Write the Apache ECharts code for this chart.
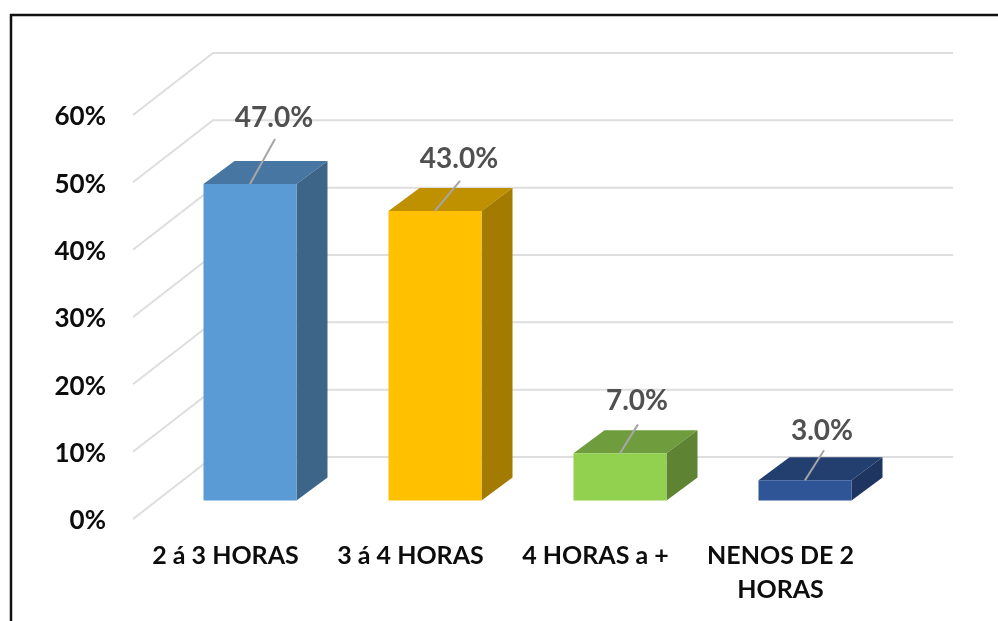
<!DOCTYPE html>
<html>
<head>
<meta charset="utf-8">
<title>Horas</title>
<style>
    html, body { margin: 0; padding: 0; background: #fff; }
    #chart { width: 998px; height: 621px; }
</style>
<script src="https://cdn.jsdelivr.net/npm/echarts@6/dist/echarts.min.js"></script>
</head>
<body>
<div id="chart"></div>
<script>
const categories = ['2 á 3 HORAS', '3 á 4 HORAS', '4 HORAS a +', 'NENOS DE 2\nHORAS'];
const values = [47, 43, 7, 3];
const ticks = [0, 10, 20, 30, 40, 50, 60];

// front, top, side
const barColors = [
    ['#5B9BD5', '#4876A2', '#3C6587'],
    ['#FFC000', '#BF9000', '#A27B00'],
    ['#92D050', '#6F9D3D', '#5D8333'],
    ['#2F5597', '#223F70', '#1D3560']
];
// leader line end and label centre, relative to the middle of the bar's front top edge
const leaders = [
    { dx: 25, dy: -45, tx: 24, ty: -66 },
    { dx: 25, dy: -30, tx: 24, ty: -52 },
    { dx: 18, dy: -29, tx: 17, ty: -52 },
    { dx: 19, dy: -30, tx: 17, ty: -49 }
];

const FONT = 'Lato, "Noto Sans", sans-serif';
// depth of the fake 3d floor and of the bars, in px
const wallDx = 80, wallDy = -62;
const barOffX = 24.5, barOffY = -18.5;
const barDx = 31, barDy = -23;
const barW = 93;

function renderGridLine(params, api) {
    const y = api.coord([0, api.value(1)])[1];
    const cs = params.coordSys;
    return {
        type: 'polyline',
        silent: true,
        shape: { points: [[cs.x, y], [cs.x + wallDx, y + wallDy], [cs.x + cs.width + wallDx, y + wallDy]] },
        style: { fill: null, stroke: '#DEDEDE', lineWidth: 2 }
    };
}

function renderBar(params, api) {
    const idx = api.value(0);
    const top = api.coord([idx, api.value(1)]);
    const base = api.coord([idx, 0]);
    const l = top[0] - barW / 2 + barOffX;
    const r = l + barW;
    const t = top[1] + barOffY;
    const b = base[1] + barOffY;
    const c = barColors[idx];
    const cx = (l + r) / 2;
    const lead = leaders[idx];
    return {
        type: 'group',
        children: [
            { type: 'polygon', shape: { points: [[l, t], [r, t], [r + barDx, t + barDy], [l + barDx, t + barDy]] }, style: { fill: c[1] } },
            { type: 'polygon', shape: { points: [[r, t], [r + barDx, t + barDy], [r + barDx, b + barDy], [r, b]] }, style: { fill: c[2] } },
            { type: 'rect', shape: { x: l, y: t, width: barW, height: b - t }, style: { fill: c[0] } },
            { type: 'line', shape: { x1: cx, y1: t, x2: cx + lead.dx, y2: t + lead.dy }, style: { stroke: '#A6A6A6', lineWidth: 2 } },
            {
                type: 'text',
                x: cx + lead.tx,
                y: t + lead.ty,
                style: {
                    text: api.value(1).toFixed(1) + '%',
                    fill: '#505050',
                    font: 'bold 28px ' + FONT,
                    align: 'center',
                    verticalAlign: 'middle'
                }
            }
        ]
    };
}

var myChart = echarts.init(document.getElementById('chart'));
myChart.setOption({
    animation: false,
    backgroundColor: '#fff',
    grid: { left: 133, right: 125, top: 115, bottom: 102 },
    xAxis: {
        type: 'category',
        data: categories,
        axisLine: { show: false },
        axisTick: { show: false },
        axisLabel: {
            color: '#0d0d0d',
            fontFamily: FONT,
            fontWeight: 'bold',
            fontSize: 25,
            lineHeight: 34,
            margin: 20,
            interval: 0
        }
    },
    yAxis: {
        type: 'value',
        min: 0,
        max: 60,
        interval: 10,
        splitLine: { show: false },
        axisLine: { show: false },
        axisTick: { show: false },
        axisLabel: {
            margin: 27,
            formatter: '{a|{value}%}',
            rich: {
                a: {
                    color: '#0d0d0d',
                    fontFamily: FONT,
                    fontWeight: 'bold',
                    fontSize: 26,
                    padding: [4, 0, 0, 0]
                }
            }
        }
    },
    graphic: [{
        type: 'polyline',
        silent: true,
        shape: { points: [[11, 621], [11, 15], [998, 15]] },
        style: { fill: null, stroke: '#111', lineWidth: 2.5 }
    }],
    series: [
        {
            type: 'custom',
            z: 1,
            clip: false,
            silent: true,
            encode: { x: 0, y: 1 },
            data: ticks.map(t => [0, t]),
            renderItem: renderGridLine
        },
        {
            type: 'custom',
            z: 2,
            clip: false,
            silent: true,
            encode: { x: 0, y: 1 },
            data: values.map((v, i) => [i, v]),
            renderItem: renderBar
        }
    ]
});
</script>
</body>
</html>
